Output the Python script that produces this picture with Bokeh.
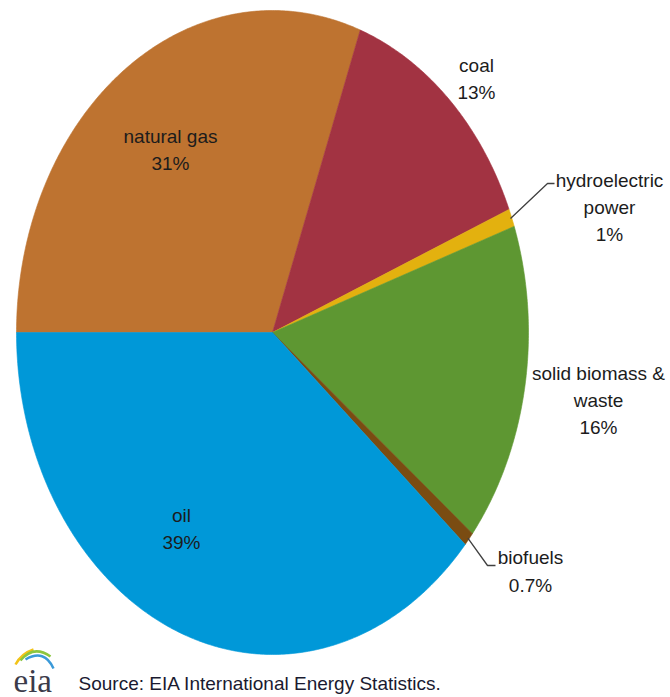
import numpy as np
from bokeh.plotting import figure
from bokeh.models import Range1d, ColumnDataSource
from bokeh.core.properties import value
from bokeh.embed import file_html
from bokeh.resources import INLINE

# ---- data ----
categories = ["natural gas", "coal", "hydroelectric\npower", "solid biomass &\nwaste", "biofuels", "oil"]
shares = [30.6, 13.2, 0.9, 16.1, 0.7, 38.6]
pct_labels = ["31%", "13%", "1%", "16%", "0.7%", "39%"]
colors = ["#BE7330", "#A23342", "#E3B10F", "#5E9732", "#7A4C12", "#0098D8"]
source_note = "Source: EIA International  Energy Statistics."

# ---- layout (canvas pixels, y downward) ----
W, H = 670, 697
cx, cy = 272, 332
rx, ry = 256, 322
FONT = "Liberation Sans"
FS = "19px"
TXT = "#1c1c1c"

p = figure(width=W, height=H, x_range=Range1d(0, W), y_range=Range1d(H, 0),
           output_backend="svg", toolbar_location=None, min_border=0)
p.axis.visible = False
p.grid.visible = False
p.outline_line_color = None
p.background_fill_color = "white"
p.border_fill_color = "white"

vals = np.array(shares, dtype=float)
frac = vals / vals.sum()
cum = np.concatenate([[0.0], np.cumsum(frac)])
start_deg = 180.0
a0 = np.radians(start_deg - 360.0 * cum[:-1])
a1 = np.radians(start_deg - 360.0 * cum[1:])
amid = (a0 + a1) / 2

xs, ys = [], []
for s, e in zip(a0, a1):
    n = max(4, int(abs(np.degrees(e - s)) * 2))
    t = np.linspace(s, e, n)
    xs.append(np.concatenate([[cx], cx + rx * np.cos(t)]).tolist())
    ys.append(np.concatenate([[cy], cy - ry * np.sin(t)]).tolist())

p.patches(xs=xs, ys=ys, fill_color=colors, line_color=colors, line_width=0.6)

# label block centres per category
label_pos = {
    0: (170, 149.5),
    1: (476, 78.5),
    2: (609, 207),
    3: (598, 400),
    4: (530, 571),
    5: (181, 528.5),
}
lx, ly, lt = [], [], []
for i, (cat, pct) in enumerate(zip(categories, pct_labels)):
    x, y = label_pos[i]
    lx.append(x)
    ly.append(y)
    lt.append(cat + "\n" + pct)
src = ColumnDataSource(dict(x=lx, y=ly, text=lt))
p.text(x="x", y="y", text="text", source=src, text_font=value(FONT),
       text_font_size=FS, text_color=TXT, text_align="center",
       text_baseline="middle", text_line_height=1.3)

# leader lines for the thin slices (start at slice mid-point on the rim)
elbows = {2: [(547, 183), (554, 183)], 4: [(487, 565), (495, 565)]}
for i, pts in elbows.items():
    sx = cx + rx * 0.995 * np.cos(amid[i])
    sy = cy - ry * 0.995 * np.sin(amid[i])
    lxs = [sx] + [px for px, _ in pts]
    lys = [sy] + [py for _, py in pts]
    p.line(lxs, lys, line_color="#404040", line_width=1.3)

# source note
p.text(x=[78], y=[683], text=[source_note], text_font=value(FONT),
       text_font_size=FS, text_color="#1a1a30", text_align="left",
       text_baseline="middle")

# eia logo
p.text(x=[13], y=[680], text=["eia"], text_font=value("Liberation Serif"),
       text_font_size="33px", text_color="#3b3b4a", text_align="left",
       text_baseline="middle")
p.quadratic(x0=[15], y0=[664], x1=[33], y1=[649], cx=[21], cy=[653],
            line_color="#F2C318", line_width=2.5)
p.quadratic(x0=[20], y0=[660], x1=[50], y1=[656], cx=[33], cy=[644],
            line_color="#8CC63F", line_width=2.5)
p.quadratic(x0=[25], y0=[659], x1=[53], y1=[668], cx=[44], cy=[648],
            line_color="#3A9AD9", line_width=2.5)

open("out.html", "w").write(file_html(p, INLINE))
